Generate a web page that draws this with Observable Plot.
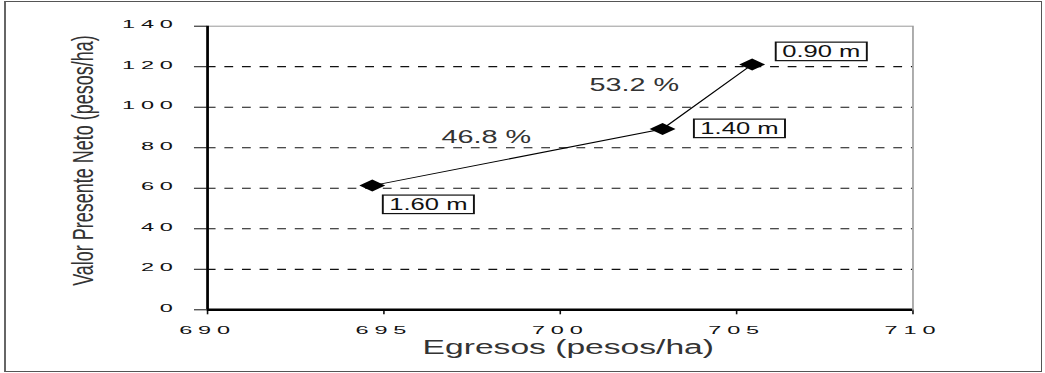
<!DOCTYPE html>
<html>
<head>
<meta charset="utf-8">
<script src="https://cdn.jsdelivr.net/npm/d3@7"></script>
<script src="https://cdn.jsdelivr.net/npm/@observablehq/plot@0.6"></script>
<style>
  html, body { margin: 0; padding: 0; background: white; }
  #wrap { position: relative; width: 1045px; height: 373px; overflow: hidden; }
  #border { position: absolute; left: 4px; top: 1px; width: 1035px; height: 369px;
            border: 1px solid #555; border-left: 2px solid #666; pointer-events: none; }
</style>
</head>
<body>
<div id="wrap"><div id="border"></div></div>
<script>
// ---- data ----
const egresos = [694.67, 702.9, 705.44];          // x: Egresos (pesos/ha)
const vpn = [61.3, 89.3, 121.1];                  // y: Valor Presente Neto (pesos/ha)
const spacing = ["1.60 m", "1.40 m", "0.90 m"];   // point labels
const labelX = [696.26, 705.08, 707.4];
const labelY = [52.0, 89.5, 127.5];
const pctText = ["46.8 %", "53.2 %"];
const pctX = [697.9, 702.1];
const pctY = [85.0, 110.9];
const yTicks = [0, 20, 40, 60, 80, 100, 120, 140];
const gridVals = [20, 40, 60, 80, 100, 120];
const xTicks = [690, 695, 700, 705, 710];
const xTitle = "Egresos (pesos/ha)";
const yTitle = "Valor Presente Neto (pesos/ha)";

// ---- chart ----
const W = 653, H = 373, OUTW = 1045;
const font = '"Liberation Sans", Arial, sans-serif';

const pts = egresos.map((x, i) => ({x, y: vpn[i]}));
const labs = spacing.map((t, i) => ({t, x: labelX[i], y: labelY[i]}));
const pcts = pctText.map((t, i) => ({t, x: pctX[i], y: pctY[i]}));

const diamond = {
  draw(ctx, size) {
    const r = Math.sqrt(size / Math.PI);
    ctx.moveTo(0, -r); ctx.lineTo(1.35 * r, 0); ctx.lineTo(0, r); ctx.lineTo(-1.35 * r, 0); ctx.closePath();
  }
};

const svg = Plot.plot({
  width: W, height: H,
  marginLeft: 129.2, marginRight: 83, marginTop: 25.7, marginBottom: 63.7,
  style: {fontFamily: font, background: "white", color: "#111", overflow: "visible"},
  x: {domain: [690, 710], ticks: xTicks, tickSize: 5, tickPadding: 11.4, label: null, tickFormat: d => String(d)},
  y: {domain: [0, 140], ticks: yTicks, tickSize: 8, tickPadding: 10, label: null, tickFormat: d => String(d)},
  marks: [
    Plot.ruleY(gridVals, {stroke: "#111", strokeWidth: 1.2, strokeDasharray: "5.5,5.5"}),
    Plot.frame({stroke: "#9a9a9a", strokeWidth: 1}),
    Plot.ruleY([0], {stroke: "black", strokeWidth: 2.5}),
    Plot.ruleX([690], {stroke: "black", strokeWidth: 1.7}),
    Plot.line(pts, {x: "x", y: "y", stroke: "black", strokeWidth: 1}),
    Plot.dot(pts, {x: "x", y: "y", symbol: diamond, r: 6, fill: "black", stroke: "none"}),
    Plot.text(pcts, {x: "x", y: "y", text: "t", fontSize: 18, fill: "#333"}),
    Plot.text(labs, {x: "x", y: "y", text: "t", fontSize: 16, fill: "#111"}),
    Plot.text([yTitle], {frameAnchor: "left", textAnchor: "middle", rotate: -90, dx: -77.3, dy: -7.5, fontSize: 18, fill: "#333"}),
    Plot.text([xTitle], {frameAnchor: "bottom", textAnchor: "middle", dx: 5, dy: 43.7, fontSize: 21, fill: "#333"})
  ]
});

document.getElementById("wrap").prepend(svg);

// tick labels: letter-spaced, wide digits
d3.select(svg).selectAll('g[aria-label="x-axis tick label"] text, g[aria-label="y-axis tick label"] text')
  .attr("font-size", 10.5)
  .style("letter-spacing", "2.6px")
  .attr("transform", function() { return (this.getAttribute("transform") || "") + " scale(1.4,1)"; });
d3.select(svg).selectAll('g[aria-label="y-axis tick label"] text').attr("dy", "-1.5");

// boxes around the point labels
d3.select(svg).selectAll("text").filter(function() { return spacing.includes(this.textContent); }).each(function() {
  const b = this.getBBox();
  const r = document.createElementNS("http://www.w3.org/2000/svg", "rect");
  r.setAttribute("x", b.x - 4);
  r.setAttribute("y", b.y - 0.5);
  r.setAttribute("width", b.width + 8);
  r.setAttribute("height", b.height + 1.5);
  r.setAttribute("fill", "white");
  r.setAttribute("stroke", "#111");
  r.setAttribute("stroke-width", 1.2);
  const t = this.getAttribute("transform");
  if (t) r.setAttribute("transform", t);
  this.parentNode.insertBefore(r, this);
});

// stretch horizontally like the original picture
svg.setAttribute("width", OUTW);
svg.setAttribute("height", H);
svg.setAttribute("preserveAspectRatio", "none");
svg.setAttribute("style", `display:block;width:${OUTW}px;height:${H}px;max-width:none;font-family:${font};background:white;color:#111;overflow:visible`);
</script>
</body>
</html>
